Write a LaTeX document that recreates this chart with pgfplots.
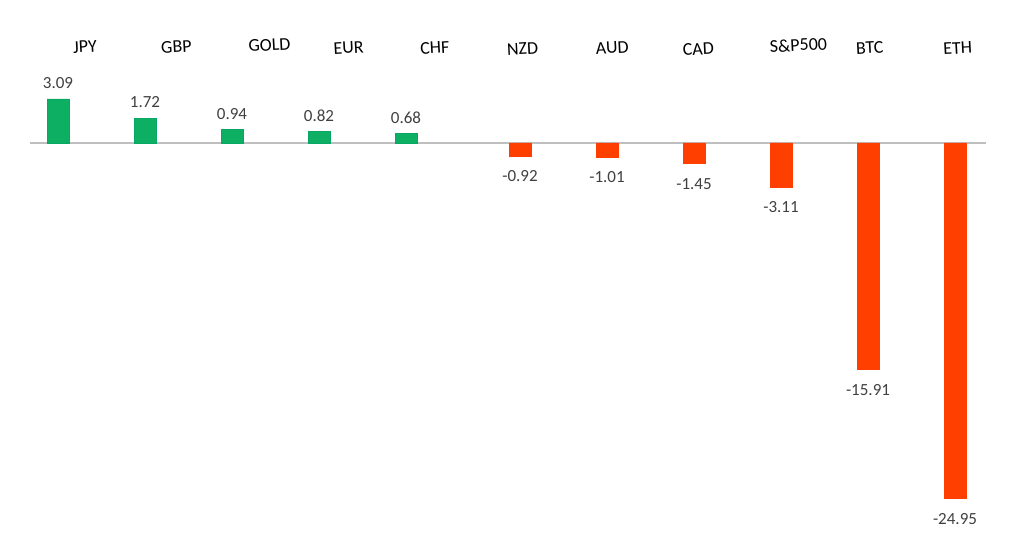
\documentclass[border=0pt]{standalone}
\usepackage{pgfplots}
\pgfplotsset{compat=1.18}
\usepackage{fontspec}
\setmainfont{Carlito}
\definecolor{upgreen}{HTML}{0DB062}
\definecolor{downred}{HTML}{FF3F00}
\definecolor{valgray}{HTML}{404040}
\definecolor{zeroline}{HTML}{BFBFBF}

\begin{document}
\begin{tikzpicture}
\begin{axis}[
    width=512pt, height=277.5pt,
    scale only axis,
    axis lines=none,
    clip=false,
    xmin=-0.667, xmax=11.103,
    ymin=-28.91, ymax=10.035,
    ybar, bar shift=0pt, bar width=11pt,
    point meta=explicit symbolic,
    nodes near coords,
]
\path (rel axis cs:0,0) rectangle (rel axis cs:1,1);
\draw[zeroline, line width=0.8pt] (axis cs:-0.322,0) -- (axis cs:10.67,0);

\addplot[fill=upgreen, draw=upgreen!80!teal, line width=0.3pt,
    every node near coord/.style={anchor=center, yshift=8pt, font=\fontsize{8.5}{10}\selectfont, text=valgray}]
coordinates {(0,3.09) [3.09] (1,1.72) [1.72] (2,0.94) [0.94] (3,0.82) [0.82] (4,0.68) [0.68]};

\addplot[fill=downred, draw=downred, line width=0.3pt,
    every node near coord/.style={anchor=center, yshift=-10pt, font=\fontsize{8.5}{10}\selectfont, text=valgray}]
coordinates {(5.31,-0.92) [-0.92] (6.31,-1.01) [-1.01] (7.31,-1.45) [-1.45] (8.31,-3.11) [-3.11] (9.31,-15.91) [-15.91] (10.31,-24.95) [-24.95]};

\begin{scope}[every node/.style={font=\fontsize{9}{11}\selectfont, rotate=3, text=black}]
\node at (axis cs:0.31,6.74) {JPY};
\node at (axis cs:1.36,6.74) {GBP};
\node at (axis cs:2.43,6.88) {GOLD};
\node at (axis cs:3.34,6.67) {EUR};
\node at (axis cs:4.33,6.67) {CHF};
\node at (axis cs:5.34,6.60) {NZD};
\node at (axis cs:6.37,6.67) {AUD};
\node at (axis cs:7.36,6.60) {CAD};
\node at (axis cs:8.51,6.88) {S\&P500};
\node at (axis cs:9.33,6.67) {BTC};
\node at (axis cs:10.34,6.67) {ETH};
\end{scope}
\end{axis}
\end{tikzpicture}
\end{document}
